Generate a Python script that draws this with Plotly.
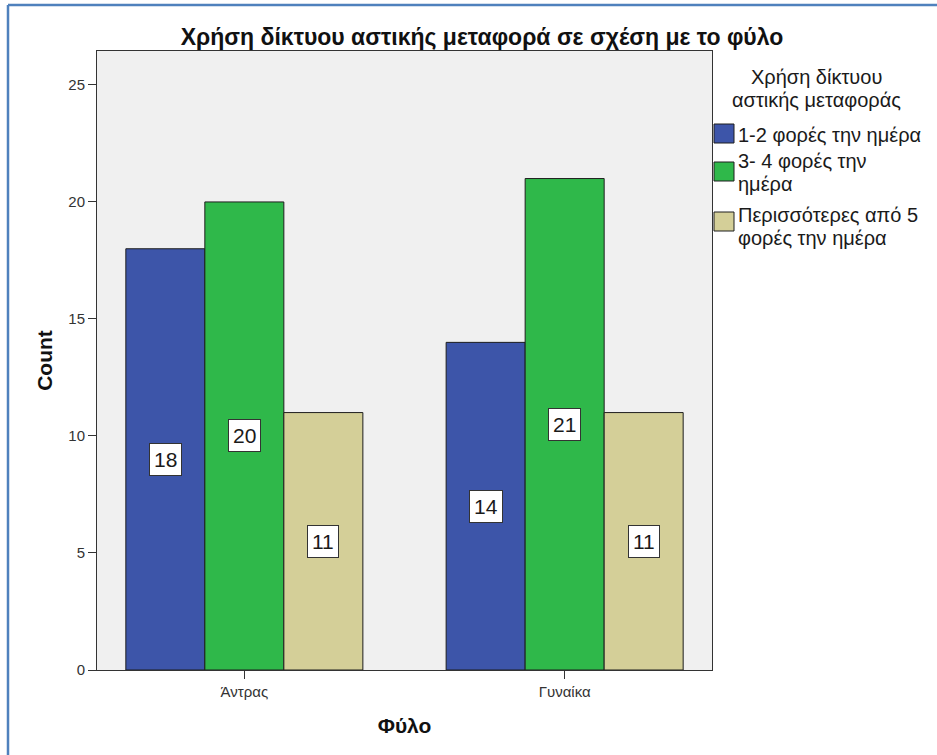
import plotly.graph_objects as go

# Data: counts of urban transport use by gender
genders = ["Άντρας", "Γυναίκα"]
series_names = ["1-2 φορές την ημέρα", "3- 4 φορές την ημέρα", "Περισσότερες από 5 φορές την ημέρα"]
legend_lines = [["1-2 φορές την ημέρα"], ["3- 4 φορές την", "ημέρα"], ["Περισσότερες από 5", "φορές την ημέρα"]]
counts_1_2 = [18, 14]
counts_3_4 = [20, 21]
counts_5_plus = [11, 11]
series_values = [counts_1_2, counts_3_4, counts_5_plus]
series_colors = ["#3d55a9", "#2fb84a", "#d4cf98"]
y_ticks = [0, 5, 10, 15, 20, 25]

W, H = 937, 755
ML, MR, MT, MB = 97, 225, 51, 85
PW, PH = W - ML - MR, H - MT - MB

def px_x(px):
    return (px - ML) / PW

def px_y(py):
    return (H - MB - py) / PH

FONT = "Liberation Sans, Arial"

fig = go.Figure()
for name, vals, col in zip(series_names, series_values, series_colors):
    fig.add_trace(go.Bar(
        x=genders, y=vals, name=name,
        marker=dict(color=col, line=dict(color="#1e1e1e", width=1)),
        showlegend=False, hoverinfo="x+y+name",
    ))

# value boxes at the middle of each bar
bargap = 0.26
bar_w = (1 - bargap) / len(series_values)
annotations = []
for s, vals in enumerate(series_values):
    offset = (s - (len(series_values) - 1) / 2) * bar_w
    for i, v in enumerate(vals):
        annotations.append(dict(
            x=i + offset, y=v / 2, xref="x", yref="y", text=str(v),
            showarrow=False, font=dict(family=FONT, size=21, color="#1a1a1a"),
            bgcolor="white", bordercolor="#333333", borderwidth=1, borderpad=4,
        ))

# legend drawn as swatches + labels on the right
legend_font = dict(family=FONT, size=20, color="#1a1a1a")
for text, cy in [("Χρήση δίκτυου", 77), ("αστικής μεταφοράς", 100)]:
    annotations.append(dict(
        x=px_x(816), y=px_y(cy), xref="paper", yref="paper", text=text,
        showarrow=False, font=legend_font, xanchor="center", yanchor="middle",
    ))
shapes = []
swatch_tops = [124, 162, 212]
line_centers = [[135], [161, 184], [215, 238]]
for col, lines, top, centers in zip(series_colors, legend_lines, swatch_tops, line_centers):
    shapes.append(dict(type="rect", xref="paper", yref="paper",
                       x0=px_x(714), x1=px_x(734), y0=px_y(top), y1=px_y(top + 19),
                       fillcolor=col, line=dict(color="#1e1e1e", width=1)))
    for text, cy in zip(lines, centers):
        annotations.append(dict(
            x=px_x(736), y=px_y(cy), xref="paper", yref="paper", text=text,
            showarrow=False, font=legend_font, xanchor="left", yanchor="middle",
        ))

# outer frame lines (top and left)
shapes.append(dict(type="line", xref="paper", yref="paper", x0=px_x(8), x1=px_x(W + 5),
                   y0=px_y(5), y1=px_y(5), line=dict(color="#4f81bd", width=2.5)))
shapes.append(dict(type="line", xref="paper", yref="paper", x0=px_x(8), x1=px_x(8),
                   y0=px_y(5), y1=px_y(H + 5), line=dict(color="#4f81bd", width=2.5)))

fig.update_layout(
    width=W, height=H,
    margin=dict(l=ML, r=MR, t=MT, b=MB, autoexpand=False),
    paper_bgcolor="white", plot_bgcolor="#f0f0f0",
    barmode="group", bargap=bargap, bargroupgap=0,
    title=dict(text="<b>Χρήση δίκτυου αστικής μεταφορά σε σχέση με το φύλο</b>",
               x=px_x(482), xanchor="center", xref="paper", y=1 - 37 / H, yanchor="middle",
               font=dict(family=FONT, size=23, color="#111")),
    xaxis=dict(
        type="category", range=[-0.46, 1.46],
        showline=True, linecolor="#333", linewidth=1, mirror=True,
        ticks="outside", ticklen=8, tickcolor="#333",
        tickfont=dict(family=FONT, size=15, color="#333"),
        title=dict(text="<b>Φύλο</b>", font=dict(family=FONT, size=21, color="#111"), standoff=19),
        showgrid=False,
    ),
    yaxis=dict(
        range=[0, 26.45], tickvals=y_ticks,
        showline=True, linecolor="#333", linewidth=1, mirror=True,
        ticks="outside", ticklen=8, tickcolor="#333",
        tickfont=dict(family=FONT, size=15, color="#333"),
        title=dict(text="<b>Count</b>", font=dict(family=FONT, size=21, color="#111"), standoff=9),
        showgrid=False, zeroline=False,
    ),
    annotations=annotations,
    shapes=shapes,
)

fig.write_html("out.html")
